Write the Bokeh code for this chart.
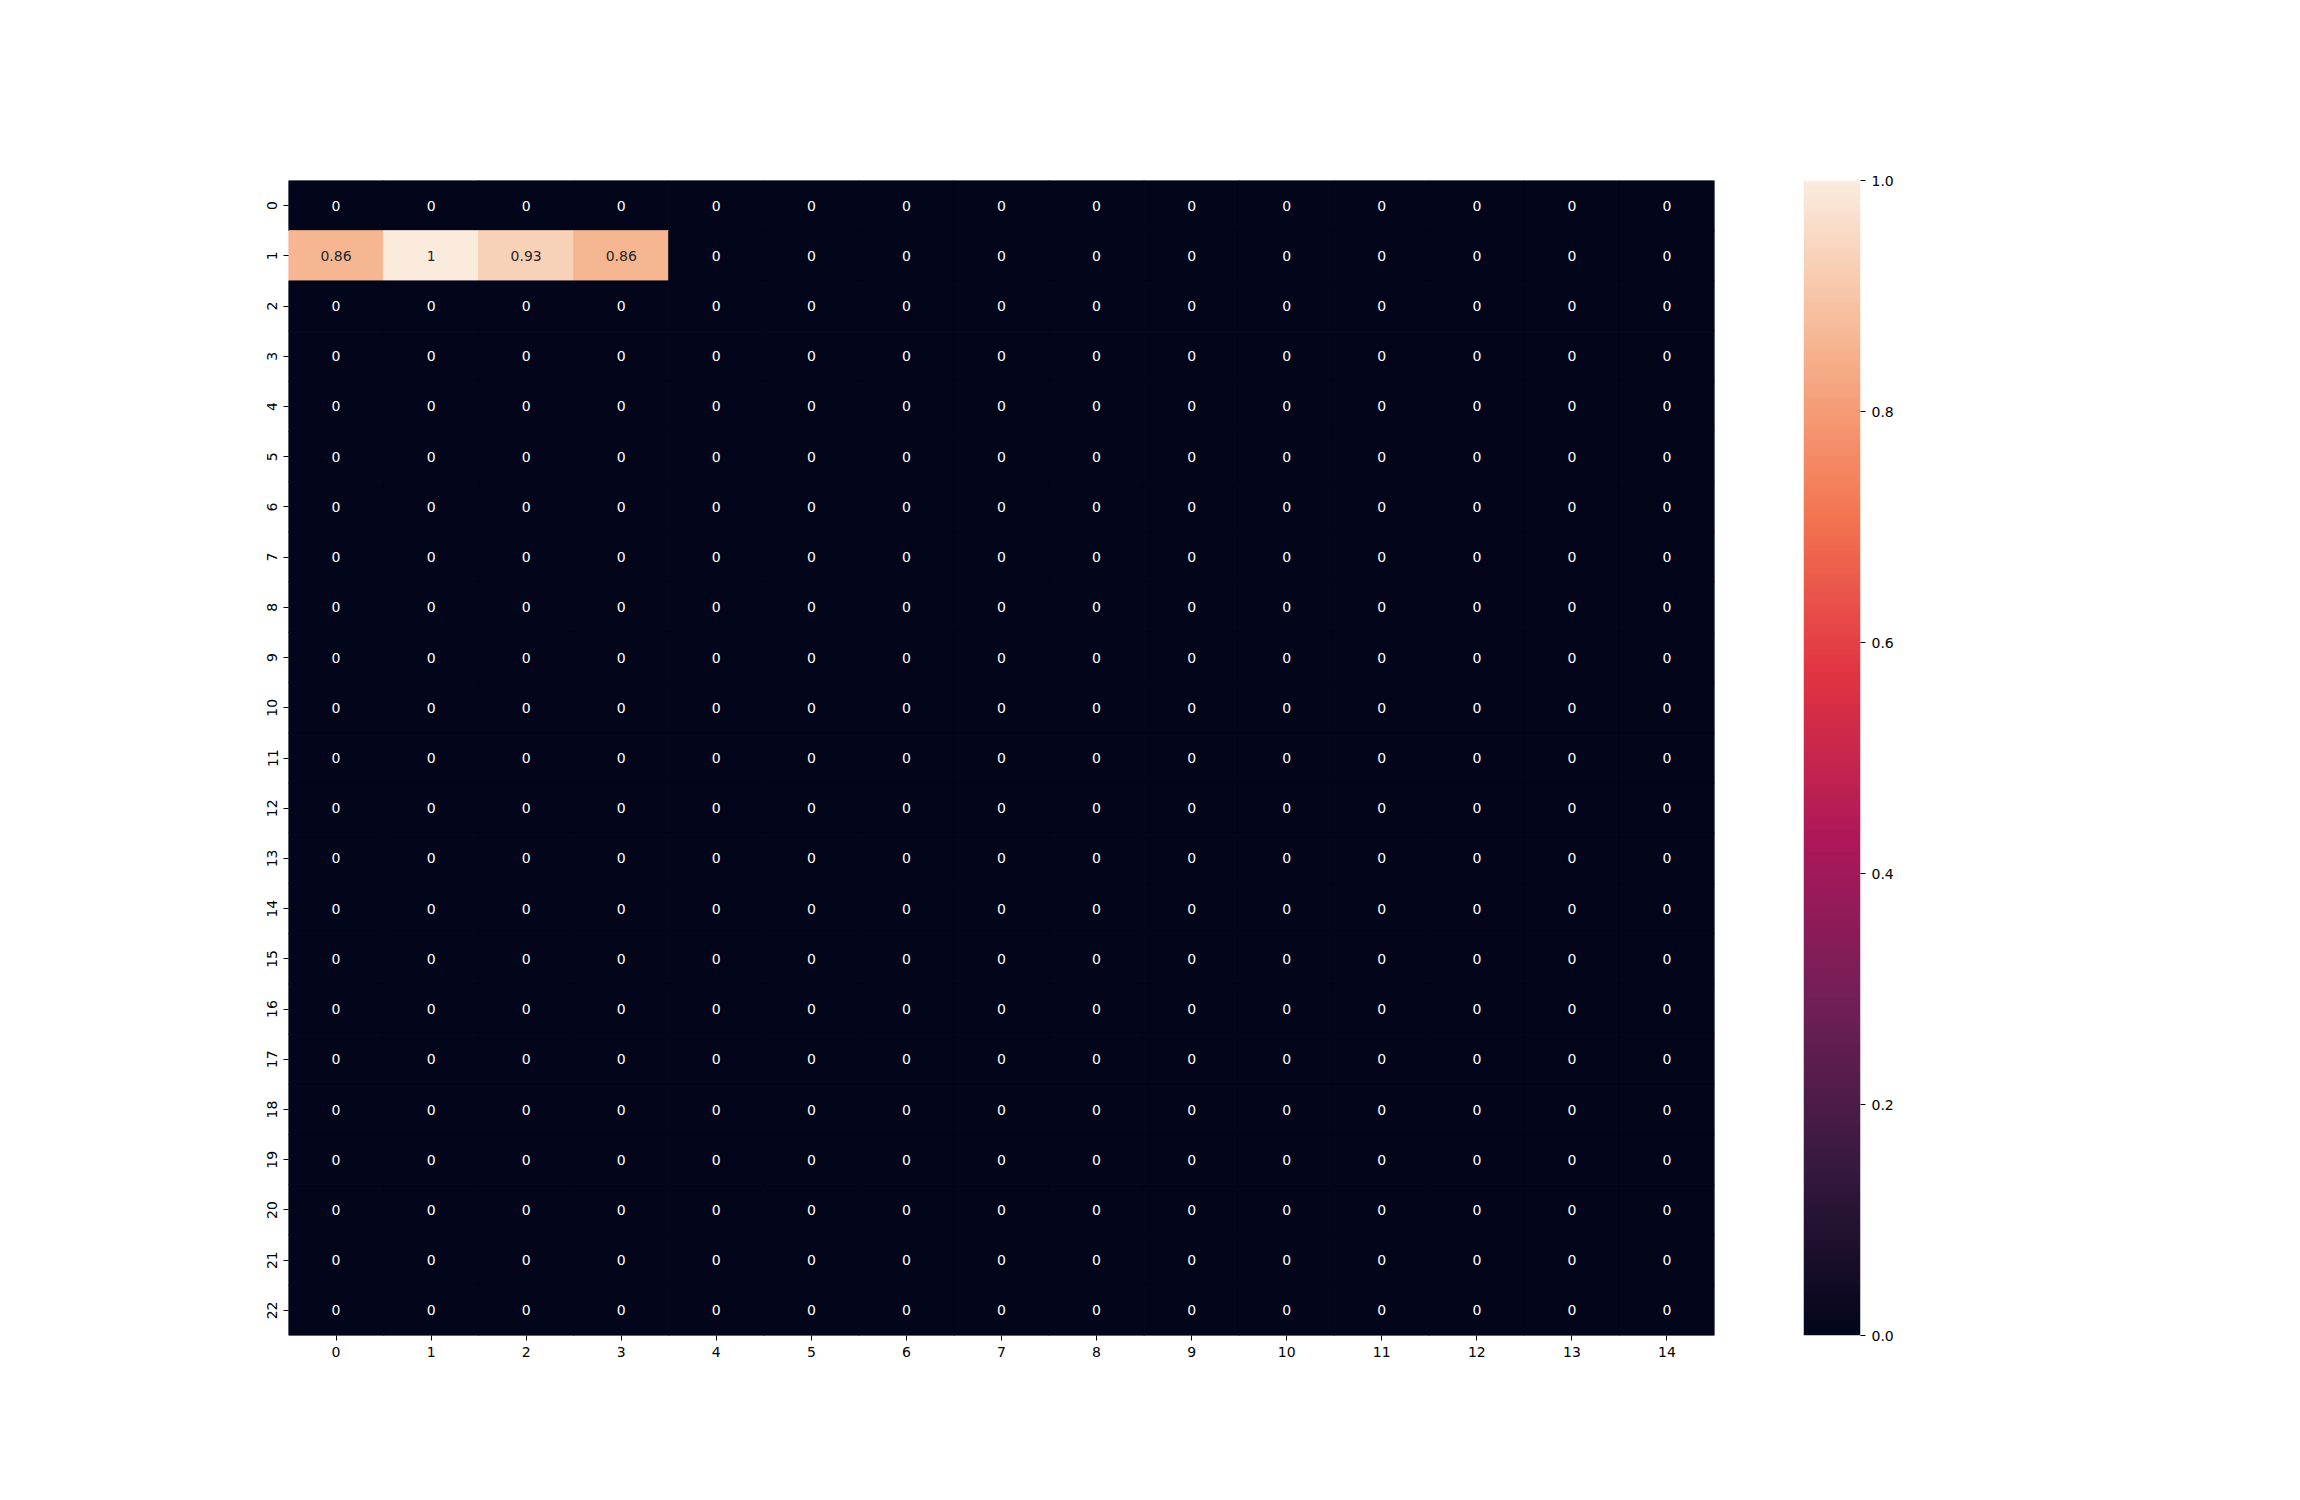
import numpy as np
from bokeh.plotting import figure
from bokeh.models import ColumnDataSource, LinearColorMapper, FixedTicker, Range1d
from bokeh.layouts import row
from bokeh.transform import transform
from bokeh.core.properties import value
from bokeh.embed import file_html
from bokeh.resources import INLINE

# ---- data ----
row_labels = [str(i) for i in range(23)]
col_labels = [str(i) for i in range(15)]
values = [
    [0, 0, 0, 0, 0, 0, 0, 0, 0, 0, 0, 0, 0, 0, 0],
    [0.86, 1, 0.93, 0.86, 0, 0, 0, 0, 0, 0, 0, 0, 0, 0, 0],
    [0, 0, 0, 0, 0, 0, 0, 0, 0, 0, 0, 0, 0, 0, 0],
    [0, 0, 0, 0, 0, 0, 0, 0, 0, 0, 0, 0, 0, 0, 0],
    [0, 0, 0, 0, 0, 0, 0, 0, 0, 0, 0, 0, 0, 0, 0],
    [0, 0, 0, 0, 0, 0, 0, 0, 0, 0, 0, 0, 0, 0, 0],
    [0, 0, 0, 0, 0, 0, 0, 0, 0, 0, 0, 0, 0, 0, 0],
    [0, 0, 0, 0, 0, 0, 0, 0, 0, 0, 0, 0, 0, 0, 0],
    [0, 0, 0, 0, 0, 0, 0, 0, 0, 0, 0, 0, 0, 0, 0],
    [0, 0, 0, 0, 0, 0, 0, 0, 0, 0, 0, 0, 0, 0, 0],
    [0, 0, 0, 0, 0, 0, 0, 0, 0, 0, 0, 0, 0, 0, 0],
    [0, 0, 0, 0, 0, 0, 0, 0, 0, 0, 0, 0, 0, 0, 0],
    [0, 0, 0, 0, 0, 0, 0, 0, 0, 0, 0, 0, 0, 0, 0],
    [0, 0, 0, 0, 0, 0, 0, 0, 0, 0, 0, 0, 0, 0, 0],
    [0, 0, 0, 0, 0, 0, 0, 0, 0, 0, 0, 0, 0, 0, 0],
    [0, 0, 0, 0, 0, 0, 0, 0, 0, 0, 0, 0, 0, 0, 0],
    [0, 0, 0, 0, 0, 0, 0, 0, 0, 0, 0, 0, 0, 0, 0],
    [0, 0, 0, 0, 0, 0, 0, 0, 0, 0, 0, 0, 0, 0, 0],
    [0, 0, 0, 0, 0, 0, 0, 0, 0, 0, 0, 0, 0, 0, 0],
    [0, 0, 0, 0, 0, 0, 0, 0, 0, 0, 0, 0, 0, 0, 0],
    [0, 0, 0, 0, 0, 0, 0, 0, 0, 0, 0, 0, 0, 0, 0],
    [0, 0, 0, 0, 0, 0, 0, 0, 0, 0, 0, 0, 0, 0, 0],
    [0, 0, 0, 0, 0, 0, 0, 0, 0, 0, 0, 0, 0, 0, 0],
]
cbar_ticks = [0.0, 0.2, 0.4, 0.6, 0.8, 1.0]

# ---- "rocket" colormap (style) ----
anchors = ["#03051a", "#35193e", "#701f57", "#ad1759", "#e13342",
           "#f37651", "#f6b48f", "#faebdd"]
apos = np.linspace(0, 1, len(anchors))
argb = np.array([[int(h[i:i + 2], 16) for i in (1, 3, 5)] for h in anchors], float)
t = np.linspace(0, 1, 256)
palette = []
for tt in t:
    rgb = [np.interp(tt, apos, argb[:, k]) for k in range(3)]
    palette.append("#%02x%02x%02x" % tuple(int(round(c)) for c in rgb))

mapper = LinearColorMapper(palette=palette, low=0, high=1)

# ---- source ----
xs, ys, vs, labels, tcolors = [], [], [], [], []
for r, rowvals in enumerate(values):
    for c, v in enumerate(rowvals):
        xs.append(c + 0.5)
        ys.append(r + 0.5)
        vs.append(v)
        labels.append(format(v, ".2g"))
        tcolors.append("#262626" if v >= 0.5 else "white")
src = ColumnDataSource(dict(x=xs, y=ys, v=vs, label=labels, tc=tcolors))

FONT = "DejaVu Sans"
FS = "14px"

p = figure(output_backend="svg", toolbar_location=None,
           x_range=Range1d(0, len(col_labels)), y_range=Range1d(len(row_labels), 0),
           frame_width=1426, frame_height=1155,
           min_border_left=288, min_border_top=180, min_border_right=40,
           min_border_bottom=140)
p.rect(x="x", y="y", width=1, height=1, source=src,
       fill_color=transform("v", mapper), line_color=transform("v", mapper),
       line_width=1)
p.text(x="x", y="y", text="label", source=src, text_color="tc",
       text_align="center", text_baseline="middle",
       text_font=value(FONT), text_font_size=FS)

p.xaxis.ticker = FixedTicker(ticks=[i + 0.5 for i in range(len(col_labels))])
p.xaxis.major_label_overrides = {i + 0.5: lab for i, lab in enumerate(col_labels)}
p.yaxis.ticker = FixedTicker(ticks=[i + 0.5 for i in range(len(row_labels))])
p.yaxis.major_label_overrides = {i + 0.5: lab for i, lab in enumerate(row_labels)}
p.yaxis.major_label_orientation = "vertical"
for ax in (p.xaxis, p.yaxis):
    ax.axis_line_color = None
    ax.minor_tick_line_color = None
    ax.major_tick_in = 0
    ax.major_tick_out = 5
    ax.major_tick_line_color = "black"
    ax.major_tick_line_width = 1
    ax.major_label_text_font = FONT
    ax.major_label_text_font_size = FS
    ax.major_label_text_color = "black"
    ax.major_label_standoff = 6
p.grid.visible = False
p.outline_line_color = None
p.background_fill_color = "white"

# ---- colorbar figure ----
cb = figure(output_backend="svg", toolbar_location=None,
            x_range=Range1d(0, 1), y_range=Range1d(0, 1),
            y_axis_location="right",
            frame_width=57, frame_height=1155,
            min_border_left=49, min_border_top=180, min_border_right=100,
            min_border_bottom=140)
grad = np.linspace(0, 1, 512).reshape(512, 1)
cb.image(image=[grad], x=0, y=0, dw=1, dh=1, color_mapper=mapper)
cb.xaxis.visible = False
cb.yaxis.ticker = FixedTicker(ticks=cbar_ticks)
cb.yaxis.major_label_overrides = {tk: "%.1f" % tk for tk in cbar_ticks}
cb.yaxis.axis_line_color = None
cb.yaxis.minor_tick_line_color = None
cb.yaxis.major_tick_in = 0
cb.yaxis.major_tick_out = 5
cb.yaxis.major_tick_line_color = "black"
cb.yaxis.major_label_text_font = FONT
cb.yaxis.major_label_text_font_size = FS
cb.yaxis.major_label_text_color = "black"
cb.yaxis.major_label_standoff = 6
cb.grid.visible = False
cb.outline_line_color = None

layout = row(p, cb)
open("out.html", "w").write(file_html(layout, INLINE))
